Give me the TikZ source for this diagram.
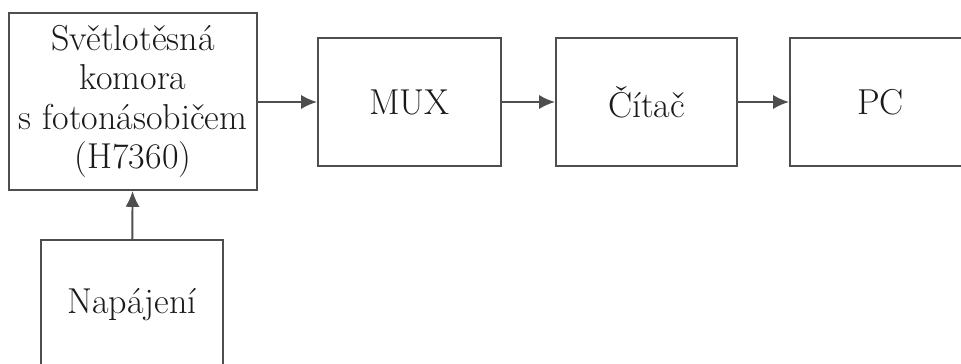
\documentclass[tikz,border=0pt]{standalone}
\usepackage{xcolor}
\usepackage{tikz}
\usetikzlibrary{arrows.meta}
\definecolor{blkline}{HTML}{4E4E4E}
\definecolor{blktext}{HTML}{1A1A1A}
\tikzset{
  blkbox/.style={draw=blkline, line width=1.1pt, fill=white, inner sep=0pt,
    align=center, text=blktext, font=\fontsize{20.5}{22.5}\selectfont},
  blkarrow/.style={draw=blkline, line width=1.1pt,
    -{Latex[length=9pt, width=8pt]}},
}
\begin{document}
\begin{tikzpicture}[x=0.02cm, y=-0.02cm]
\useasboundingbox (0,0) rectangle (961,364);
\clip (0,0) rectangle (961,364);
\node[blkbox, minimum width=248*0.02cm, minimum height=177*0.02cm] (kom) at (133,101.5)
  {Světlotěsná\\komora\\s fotonásobičem\\(H7360)};
\node[blkbox, minimum width=183*0.02cm, minimum height=128*0.02cm] (mux) at (409.5,102) {MUX};
\node[blkbox, minimum width=181*0.02cm, minimum height=128*0.02cm] (cit) at (646.5,102) {Čítač};
\node[blkbox, minimum width=181*0.02cm, minimum height=128*0.02cm] (pc) at (880.5,102) {PC};
\node[blkbox, minimum width=182*0.02cm, minimum height=130*0.02cm] (nap) at (132,305) {Napájení};
\draw[blkarrow] (kom.east |- mux.west) -- (mux.west);
\draw[blkarrow] (mux) -- (cit);
\draw[blkarrow] (cit) -- (pc);
\draw[blkarrow] (nap) -- (kom);
\end{tikzpicture}
\end{document}
